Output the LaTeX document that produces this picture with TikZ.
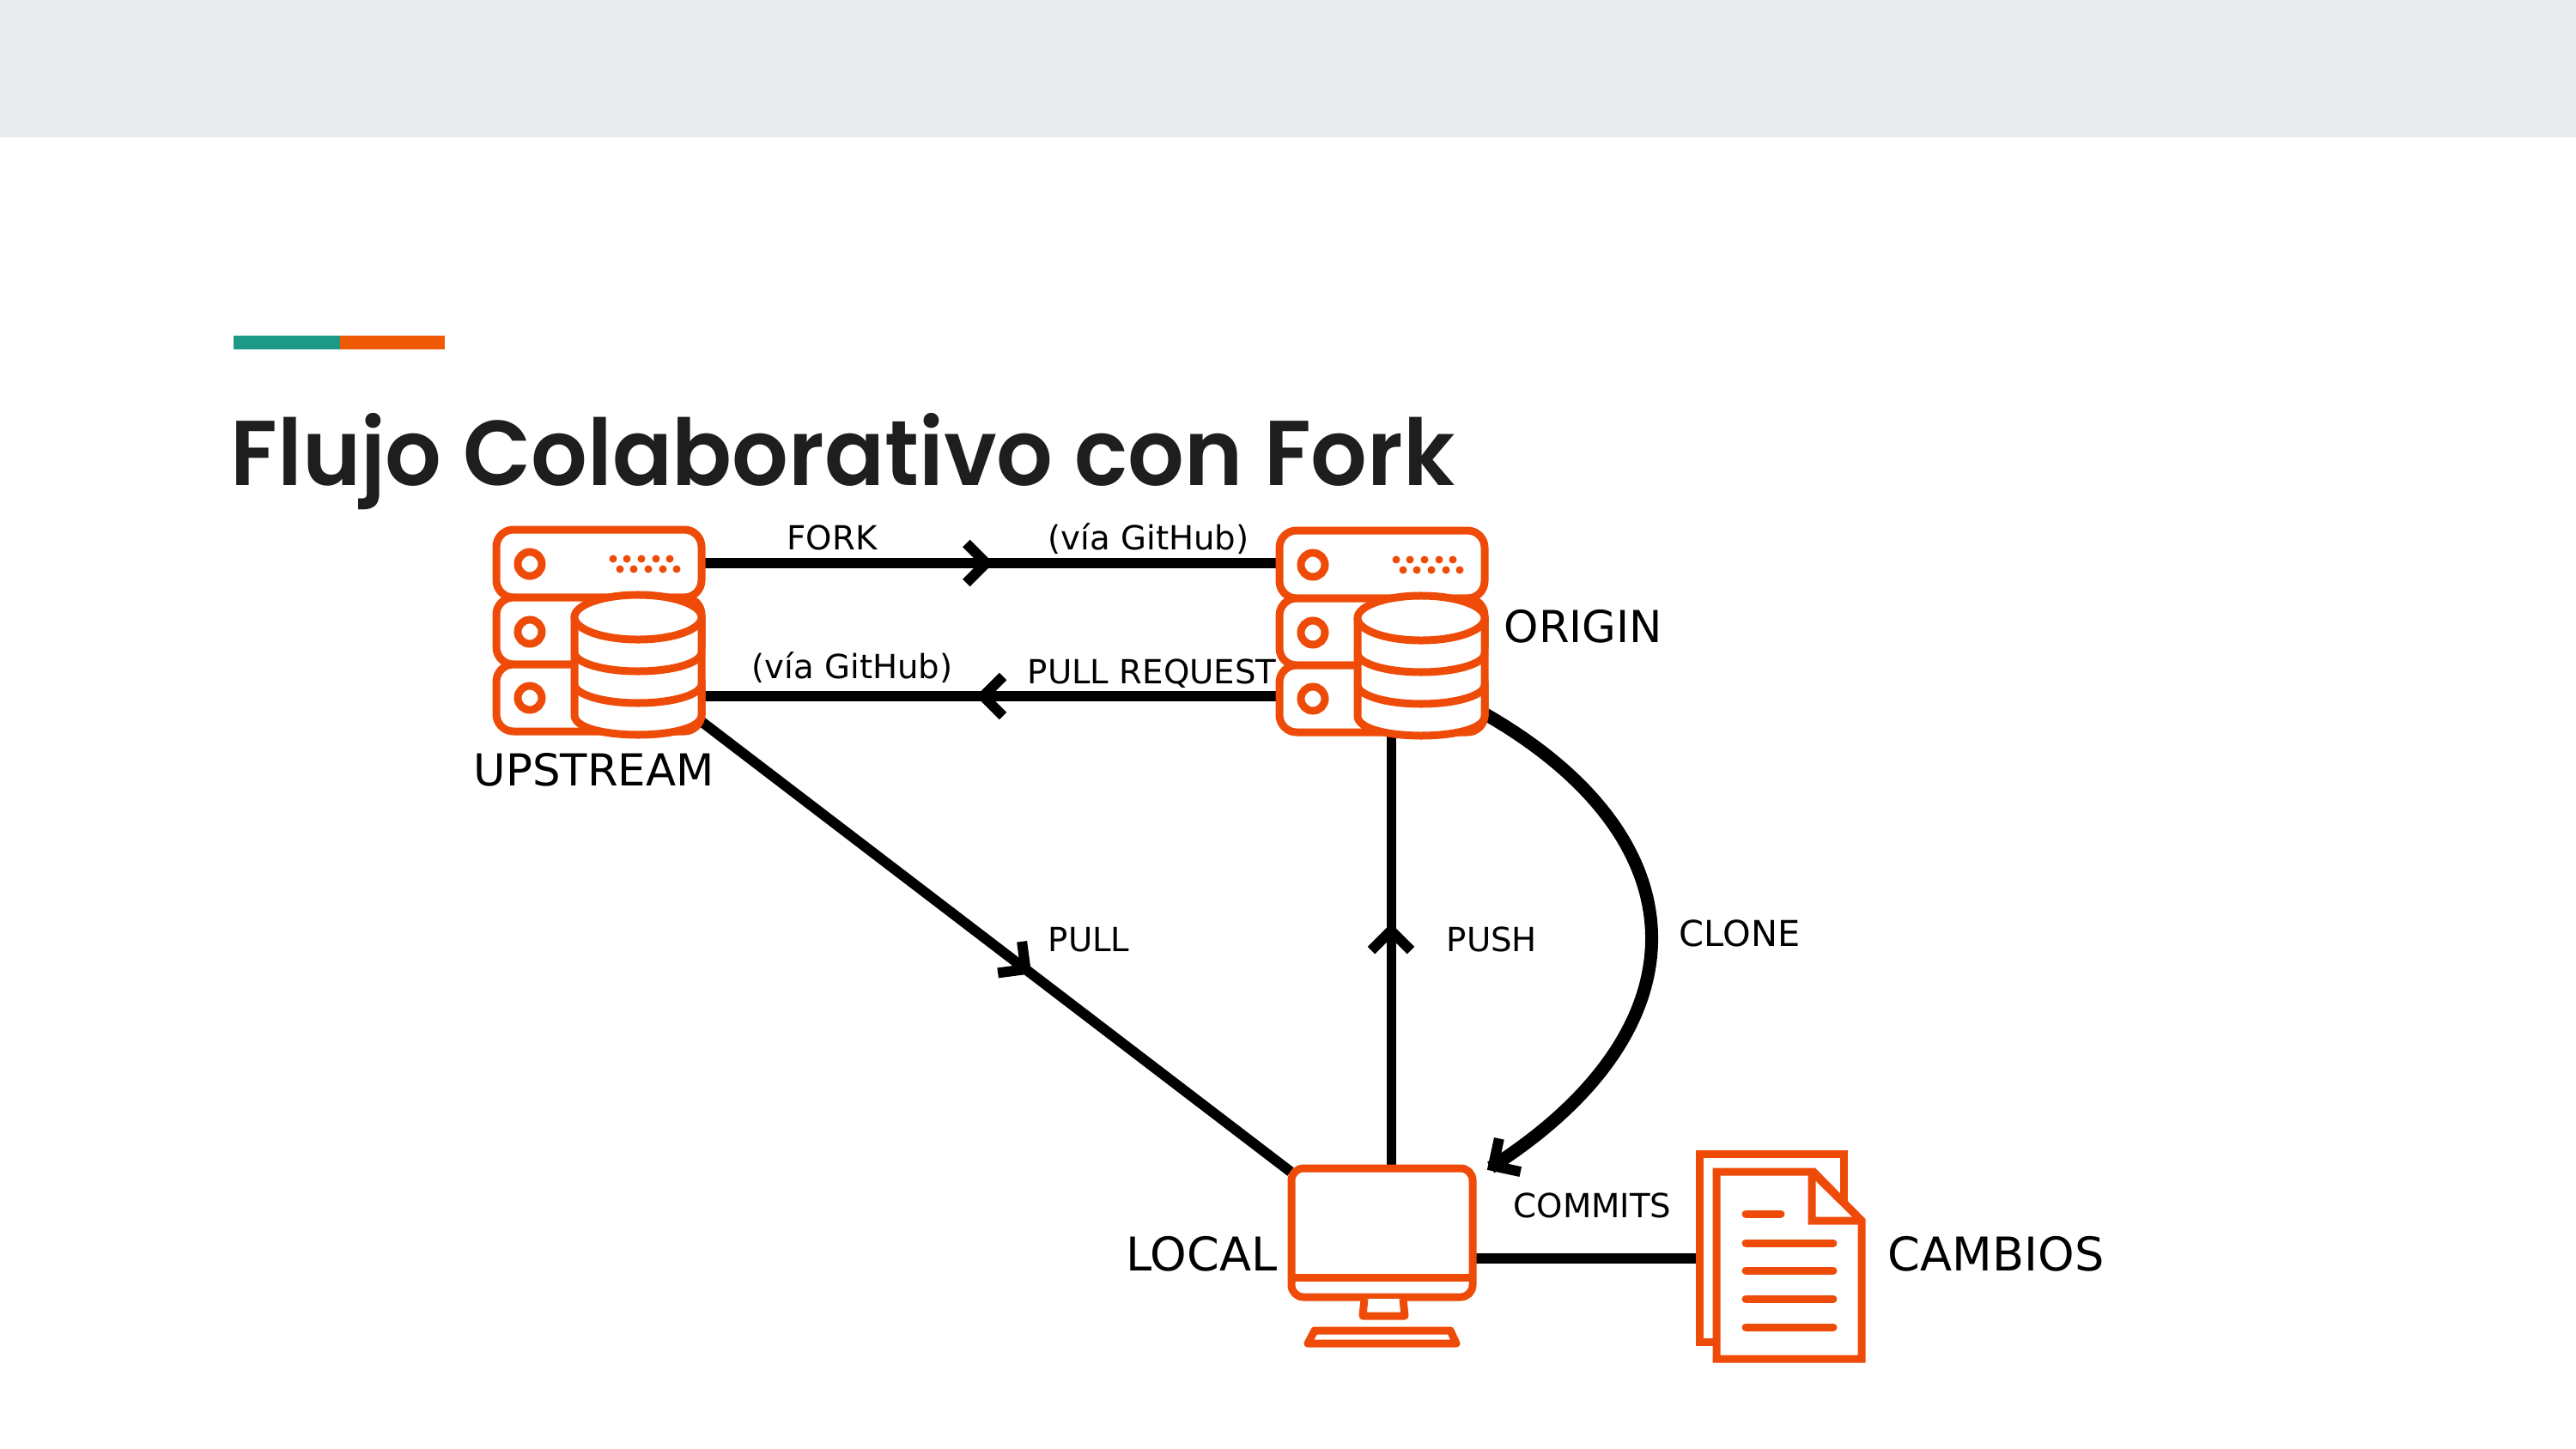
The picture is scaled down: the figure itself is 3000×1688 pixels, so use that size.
\documentclass[tikz,border=0pt]{standalone}
\usepackage{fontspec}
\setmainfont{DejaVu Sans}
\newfontfamily\titlefont{Poppins}[UprightFont=* SemiBold,Ligatures=NoCommon,FakeStretch=0.962]
\usetikzlibrary{calc,decorations.markings}
\definecolor{icon}{HTML}{EE4B08}
\definecolor{band}{HTML}{E9ECEC}
\definecolor{tealbar}{HTML}{1C9A87}
\definecolor{orangebar}{HTML}{EE5A05}
\definecolor{titleink}{HTML}{1E1E1E}
\tikzset{
  x=0.01cm,y=-0.01cm,
  iconline/.style={draw=icon,line width=0.09cm,fill=white},
  iconrule/.style={draw=icon,line width=0.09cm,line cap=round},
  iconarea/.style={draw=none,inner sep=0,outer sep=0,anchor=north west},
  link/.style={draw=black,line width=0.12cm},
  small/.style={font=\fontsize{11}{13}\selectfont,inner sep=0,anchor=base west,text=black},
  big/.style={font=\fontsize{14.6}{17}\selectfont,inner sep=0,anchor=base west,text=black},
  larger/.style={font=\fontsize{15.4}{18}\selectfont,inner sep=0,anchor=base west,text=black},
  chevron/.style={postaction={decorate,decoration={markings,mark=at position #1 with {
    \draw[line width=0.12cm,miter limit=4] (-0.23cm,-0.23cm)--(0,0)--(-0.23cm,0.23cm);}}}},
  serverpic/.pic={
    \foreach \ya/\yb in {0/79,79/157,157/235}{
      \draw[iconline,rounded corners=0.2cm] (0,\ya) rectangle (239,\yb);
    }
    \foreach \yc in {40,119,196}{
      \draw[iconline] (39,\yc) circle [radius=0.14cm];
    }
    \foreach \xd in {136,152,169,186,202}{
      \fill[icon] (\xd,34) circle [radius=0.045cm];
      \fill[icon] (\xd+8,46) circle [radius=0.045cm];
    }
    \draw[iconline] (91,102) -- (91,216) .. controls (91,232) and (130,239) .. (165,239)
      .. controls (200,239) and (239,232) .. (239,216) -- (239,102);
    \draw[iconline] (165,102) ellipse [x radius=0.74cm,y radius=0.26cm];
    \draw[iconline,fill=none] (91,143) .. controls (91,155) and (124,165) .. (165,165)
      .. controls (206,165) and (239,155) .. (239,143);
    \draw[iconline,fill=none] (91,180) .. controls (91,192) and (124,202) .. (165,202)
      .. controls (206,202) and (239,192) .. (239,180);
  },
}
\begin{document}
\begin{tikzpicture}
\useasboundingbox (0,0) rectangle (3000,1688);
\fill[white] (0,0) rectangle (3000,1688);
\fill[band] (0,0) rectangle (3000,160);
\fill[tealbar] (272,391) rectangle (396,407);
\fill[orangebar] (396,391) rectangle (518,407);
\node[anchor=base west,inner sep=0,text=titleink] (title) at (268,565)
  {\titlefont\fontsize{30.5}{36}\selectfont Flujo Colaborativo con Fork};

% icon areas
\node[iconarea,minimum width=2.47cm,minimum height=2.47cm] (upstream) at (574,614) {};
\node[iconarea,minimum width=2.47cm,minimum height=2.47cm] (origin) at (1486,614) {};
\node[iconarea,minimum width=2.19cm,minimum height=2.15cm] (local) at (1500,1357) {};
\node[iconarea,minimum width=1.97cm,minimum height=2.47cm] (docs) at (1975,1340) {};

% connectors
\draw[link,chevron=0.493] ($(upstream.north east)+(-5,42)$) -- ($(origin.north west)+(4,42)$);
\draw[link,chevron=0.512] ($(origin.north west)+(4,197)$) -- ($(upstream.north east)+(-5,197)$);
\draw[link,chevron=0.554] ($(upstream.south east)+(-10,-25)$) -- ($(local.north west)+(3,8)$);
\draw[link,line width=0.11cm,chevron=0.546] ($(local.north west)+(120,0)$) -- ($(origin.south west)+(134,-4)$);
\draw[link,line width=0.15cm,chevron=0.995] ($(origin.south east)+(-3,-29)$)
  .. controls (1987,980) and (1987,1200) .. ($(local.north east)+(17,3)$);
\draw[link] ($(local.north east)+(0,109)$) -- ($(docs.north west)+(3,126)$);

% servers
\pic at (1490,618) {serverpic};
\pic at (578,617) {serverpic};

% monitor
\draw[iconline,rounded corners=0.14cm] (1504,1361) rectangle (1715,1511);
\draw[iconline] (1504,1488) -- (1715,1488);
\draw[iconline,line join=round] (1589,1513) -- (1587,1533) -- (1636,1533) -- (1634,1513);
\draw[iconline,line join=round] (1531,1550) -- (1689,1550) -- (1696,1565) -- (1523,1565) -- cycle;

% documents
\draw[iconline] (1979,1344) rectangle (2147,1563);
\draw[iconline,miter limit=2] (1999,1365) -- (2112,1365) -- (2168,1422) -- (2168,1583) -- (1999,1583) -- cycle;
\draw[iconline,miter limit=2] (2110,1365) -- (2110,1422) -- (2168,1422) -- cycle;
\draw[iconrule] (2033,1414) -- (2074,1414);
\foreach \yl in {1448,1480,1513,1546}{
  \draw[iconrule] (2033,\yl) -- (2135,\yl);
}

% labels
\node[small] (lfork) at (916,640) {FORK};
\node[small] (lvia1) at (1220,640) {(vía GitHub)};
\node[small] (lvia2) at (875,790) {(vía GitHub)};
\node[small] (lpr) at (1196,796) {PULL REQUEST};
\node[small] (lpull) at (1220,1108) {PULL};
\node[small] (lpush) at (1684,1108) {PUSH};
\node[small,font=\fontsize{11.8}{14}\selectfont] (lclone) at (1955,1102) {CLONE};
\node[small] (lcommits) at (1762,1418) {COMMITS};
\node[big] (lup) at (551,915) {UPSTREAM};
\node[big] (lorigin) at (1751,748) {ORIGIN};
\node[larger] (llocal) at (1311,1480) {LOCAL};
\node[larger] (lcamb) at (2198,1480) {CAMBIOS};
\end{tikzpicture}
\end{document}
